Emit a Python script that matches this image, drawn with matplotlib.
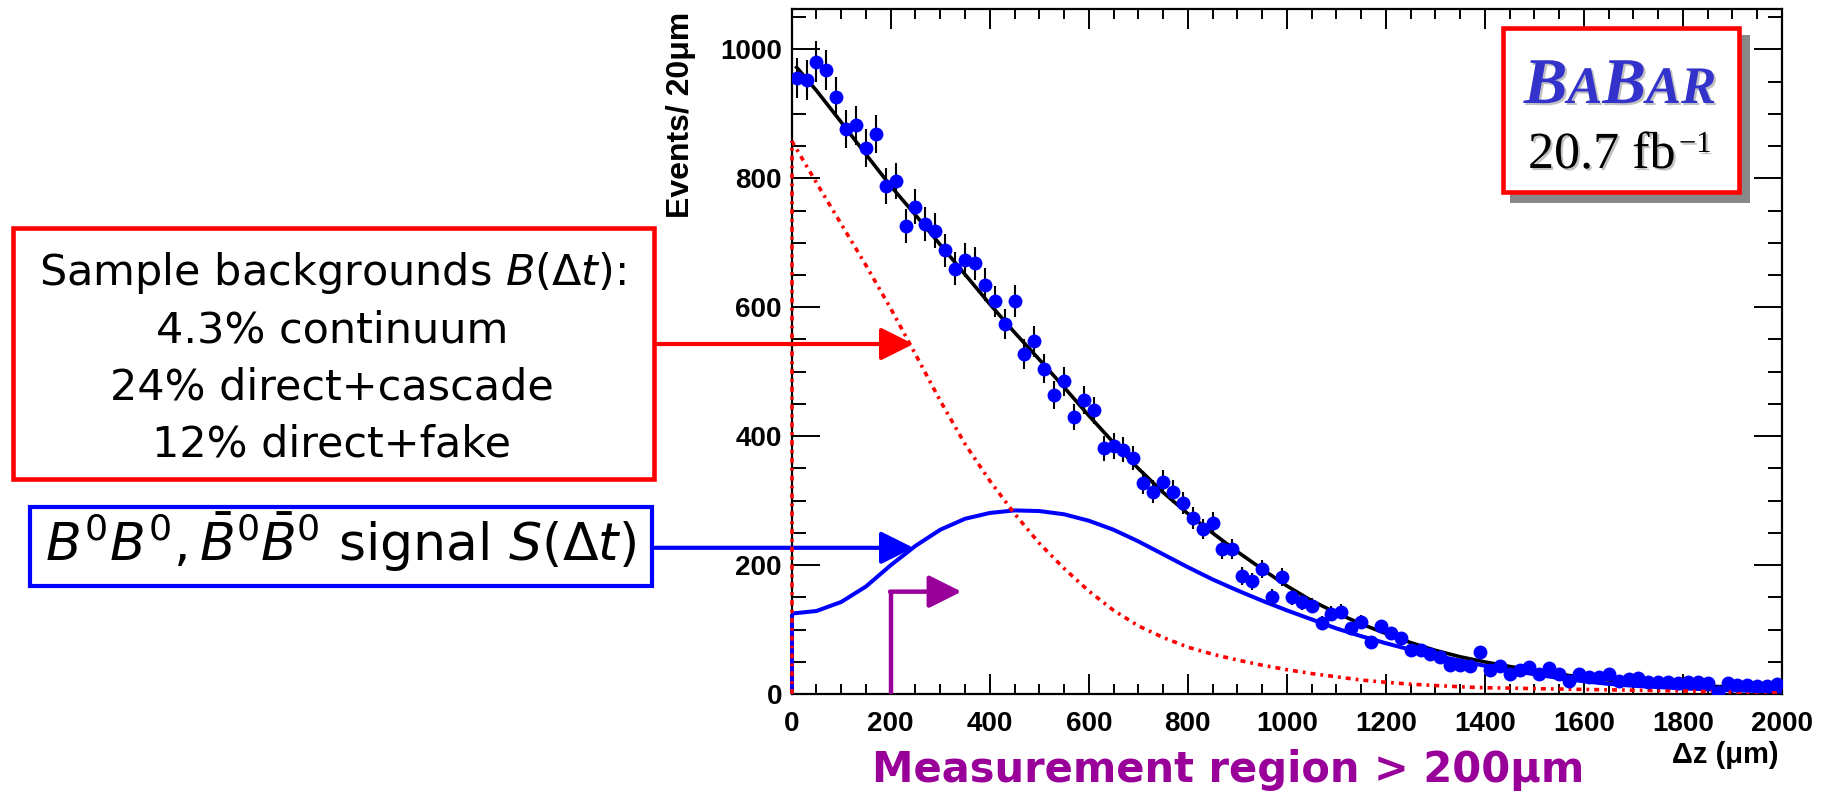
import numpy as np
import matplotlib
matplotlib.use("Agg")
import matplotlib.pyplot as plt
import matplotlib.patheffects as pe
import matplotlib.transforms as mtransforms
from matplotlib.patches import Rectangle
from matplotlib.ticker import MultipleLocator
from matplotlib.offsetbox import TextArea, HPacker, AnnotationBbox

W, H = 1830, 798

# --- data: events per 20 um bin (bin centres 10 ... 1990 um) ---
dz_bins = np.arange(10, 2000, 20)
counts = np.array([
    955, 953, 981, 968, 926, 877, 882, 847, 868, 788,
    796, 726, 756, 729, 719, 688, 660, 673, 668, 635,
    609, 574, 610, 528, 547, 505, 464, 485, 430, 456,
    440, 381, 385, 379, 366, 328, 314, 329, 314, 297,
    273, 256, 266, 225, 225, 183, 175, 194, 151, 182,
    151, 143, 137, 110, 125, 128, 102, 112, 81, 105,
    95, 87, 69, 69, 63, 57, 45, 45, 43, 66,
    37, 44, 32, 38, 42, 32, 40, 31, 21, 31,
    26, 27, 31, 21, 23, 25, 19, 19, 19, 18,
    19, 19, 17, 3, 17, 14, 14, 13, 12, 16,
])

# --- fitted curves, read every 50 um ---
curve_x = np.arange(0, 2001, 50)
total_x = np.concatenate([[10], curve_x[1:]])
total_fit = [972, 936, 887, 837, 788, 743, 697, 651, 605, 561,
             519, 476, 432, 390, 350, 313, 280, 250, 221, 194,
             168, 145, 126, 109, 94, 80, 68, 58, 50, 43,
             37, 31, 26, 22, 19, 16, 14, 12.5, 11, 10, 9]
bkg_fit = [858, 793, 729, 665, 598, 527, 455, 388, 331, 280,
           234, 195, 160, 130, 106, 88, 73, 62, 53, 45,
           38, 32, 27, 22, 18.5, 15.5, 13.5, 11.5, 10, 9.5,
           8.6, 8, 7.4, 6.8, 6.2, 5.6, 5, 4, 3.3, 2.6, 2]
sig_fit = [125, 129, 143, 167, 200, 230, 255, 272, 281, 285,
           284, 279, 269, 255, 237, 217, 197, 178, 161, 145,
           130, 116, 102, 90, 79, 69, 60, 52, 44, 37,
           31, 25, 20, 16, 13, 11, 9, 7.5, 6, 5, 4]

meas_cut = 200          # measurement region starts here (um)

bkg_lines = ["Sample backgrounds $B(\\Delta t)$:",
             "4.3% continuum",
             "24% direct+cascade",
             "12% direct+fake"]
sig_label = "$B^0B^0,\\bar{B}^0\\bar{B}^0$ signal $S(\\Delta t)$"

plt.rcParams["mathtext.fontset"] = "dejavusans"
plt.rcParams["lines.scale_dashes"] = False

def fx(px):
    return px / W

def fy(py):
    return 1 - py / H

fig = plt.figure(figsize=(W / 100, H / 100), dpi=100)
ax = fig.add_axes([fx(791.7), fy(694.2), (1782 - 791.7) / W, (694.2 - 9.3) / H])

red_dash = (3.6, 3.6, 2.0, 3.6)

# curves
ax.plot(total_x, total_fit, color="black", lw=2.6, zorder=3)
ax.plot(curve_x, sig_fit, color="#0000ff", lw=2.9, zorder=3)
ax.vlines(0, 0, sig_fit[0], color="#0000ff", lw=2.9, zorder=3, clip_on=False)
ax.plot(curve_x, bkg_fit, color="red", lw=2.6, dashes=red_dash, zorder=3)
ax.vlines(0, 0, bkg_fit[0], color="red", lw=2.6, linestyles=(0, red_dash),
          zorder=4, clip_on=False)

# data
ax.errorbar(dz_bins, counts, yerr=np.sqrt(counts), fmt="none", ecolor="black",
            elinewidth=1.5, capsize=0, zorder=4)
ax.plot(dz_bins, counts, "o", color="#0000ff", ms=10, mew=0, zorder=5)

ax.set_xlim(0, 2000)
ax.set_ylim(0, 1062)
ax.xaxis.set_major_locator(MultipleLocator(200))
ax.xaxis.set_minor_locator(MultipleLocator(50))
ax.yaxis.set_major_locator(MultipleLocator(200))
ax.yaxis.set_minor_locator(MultipleLocator(50))
ax.tick_params(axis="both", which="both", direction="in", top=True, right=True,
               width=1.4, labelsize=20)
ax.tick_params(axis="x", which="major", length=14.4, pad=12)
ax.tick_params(axis="x", which="minor", length=7.2)
ax.tick_params(axis="y", which="major", length=20, pad=7)
ax.tick_params(axis="y", which="minor", length=10.4)
for lab in ax.get_xticklabels() + ax.get_yticklabels():
    lab.set_fontfamily("Liberation Sans")
    lab.set_fontweight("bold")
for sp in ax.spines.values():
    sp.set_linewidth(1.6)

ax.set_ylabel("Events/ 20μm", fontsize=23, fontweight="bold",
              fontfamily="Liberation Sans", ha="right")
ax.yaxis.set_label_coords(-0.097, 0.996)
ax.set_xlabel("Δz (μm)", fontsize=21, fontweight="bold",
              fontfamily="Liberation Sans", ha="right", va="center")
ax.xaxis.set_label_coords(0.997, -0.089)

# measurement region marker
purple = "#990099"
ax.plot([meas_cut, meas_cut], [0, 159], color=purple, lw=3.2,
        solid_joinstyle="miter", solid_capstyle="butt", zorder=3)
ax.annotate("", xy=(343, 159), xytext=(meas_cut - 1.5, 159),
            arrowprops=dict(arrowstyle="-|>,head_length=1.0,head_width=0.5",
                            color=purple, lw=3.2, shrinkA=0, shrinkB=0,
                            mutation_scale=20))
fig.text(fx(1228), fy(770), "Measurement region > 200μm", color=purple,
         fontsize=30, fontweight="bold", ha="center", va="center")

# annotation boxes on the left
blend = mtransforms.blended_transform_factory(fig.transFigure, ax.transData)
fig.add_artist(Rectangle((fx(13.3), fy(478.7)), fx(640.4), (478.7 - 228.3) / H,
                         transform=fig.transFigure, fill=False, ec="red", lw=3.3))
for i, line in enumerate(bkg_lines):
    fig.text(fx(332), fy(285 + 57.3 * i), line, fontsize=31, ha="center",
             va="baseline")
fig.add_artist(Rectangle((fx(30), fy(586)), fx(622), (586 - 507) / H,
                         transform=fig.transFigure, fill=False, ec="#0000ff", lw=3.0))
fig.text(fx(341), fy(561), sig_label, fontsize=37.5, ha="center", va="baseline")

arrow_kw = "-|>,head_length=1.0,head_width=0.5"
ax.annotate("", xy=(246, 543), xytext=(fx(657), 543), textcoords=blend,
            annotation_clip=False,
            arrowprops=dict(arrowstyle=arrow_kw, color="red", lw=3.0, shrinkA=0,
                            shrinkB=0, mutation_scale=20))
ax.annotate("", xy=(246, 227), xytext=(fx(655), 227), textcoords=blend,
            annotation_clip=False,
            arrowprops=dict(arrowstyle=arrow_kw, color="#0000ff", lw=3.0, shrinkA=0,
                            shrinkB=0, mutation_scale=20))

# BaBar logo box
fig.add_artist(Rectangle((fx(1510), fy(203)), fx(240), 168 / H,
                         transform=fig.transFigure, fc="#888888", ec="none"))
fig.add_artist(Rectangle((fx(1503.3), fy(191.7)), fx(235.4), 163.4 / H,
                         transform=fig.transFigure, fc="white", ec="red", lw=3.3))
shadow = [pe.SimplePatchShadow(offset=(1.5, -1.5), shadow_rgbFace="#999999", alpha=0.6),
          pe.Normal()]
logo_kw = dict(fontfamily="Liberation Serif", fontweight="bold", fontstyle="italic",
               color="#3333cc", path_effects=shadow)
letters = [TextArea(ch, textprops=dict(fontsize=sz, **logo_kw))
           for ch, sz in [("B", 47), ("A", 38), ("B", 47), ("AR", 38)]]
logo = HPacker(children=letters, align="baseline", pad=0, sep=0)
fig.add_artist(AnnotationBbox(logo, (fx(1620), fy(117)), xycoords="figure fraction",
                              box_alignment=(0.5, 0.0), frameon=False, pad=0))
fig.text(fx(1528), fy(168), "20.7 fb", fontfamily="Liberation Serif",
         fontsize=37.5, ha="left", va="baseline", path_effects=shadow)
fig.text(fx(1679), fy(152), "\u22121", fontfamily=["Liberation Serif", "DejaVu Serif"],
         fontsize=22, ha="left", va="baseline", path_effects=shadow)

fig.savefig("out.png", dpi=100)
